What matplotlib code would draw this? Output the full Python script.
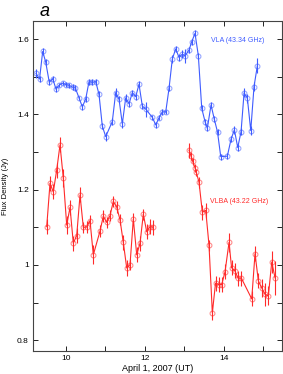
import matplotlib
matplotlib.use("Agg")
import matplotlib.pyplot as plt
from matplotlib.ticker import FixedLocator
import numpy as np

plt.rcParams['font.family'] = ['Liberation Sans', 'DejaVu Sans']

# VLA (43.34 GHz)
vla_t = [9.249, 9.338, 9.418, 9.494, 9.585, 9.671, 9.755, 9.838, 9.924, 10.008,
         10.091, 10.177, 10.243, 10.336, 10.420, 10.506, 10.589, 10.673, 10.759, 10.842,
         10.925, 11.011, 11.178, 11.264, 11.348, 11.431, 11.517, 11.601, 11.684, 11.770,
         11.853, 11.937, 12.023, 12.190, 12.276, 12.359, 12.443, 12.528, 12.612, 12.695,
         12.781, 12.865, 12.948, 13.017, 13.118, 13.186, 13.269, 13.353, 13.439, 13.522,
         13.580, 13.674, 13.757, 13.838, 13.919, 14.086, 14.180, 14.264, 14.349, 14.433,
         14.509, 14.592, 14.678, 14.761, 14.845]
vla_f = [1.509, 1.494, 1.567, 1.539, 1.485, 1.495, 1.467, 1.478, 1.483, 1.479,
         1.477, 1.472, 1.470, 1.444, 1.420, 1.441, 1.487, 1.485, 1.487, 1.453,
         1.369, 1.341, 1.381, 1.458, 1.440, 1.375, 1.444, 1.428, 1.458, 1.447,
         1.480, 1.422, 1.414, 1.392, 1.372, 1.391, 1.407, 1.406, 1.469, 1.547,
         1.574, 1.551, 1.560, 1.555, 1.571, 1.593, 1.615, 1.556, 1.416, 1.381,
         1.363, 1.425, 1.387, 1.353, 1.288, 1.289, 1.334, 1.359, 1.312, 1.354,
         1.457, 1.443, 1.357, 1.474, 1.529]
vla_e = [0.012, 0.008, 0.010, 0.008, 0.008, 0.008, 0.008, 0.006, 0.006, 0.006,
         0.006, 0.008, 0.008, 0.006, 0.008, 0.008, 0.008, 0.008, 0.008, 0.008,
         0.008, 0.012, 0.010, 0.012, 0.008, 0.010, 0.010, 0.008, 0.008, 0.008,
         0.008, 0.008, 0.020, 0.006, 0.008, 0.006, 0.008, 0.006, 0.008, 0.010,
         0.008, 0.008, 0.010, 0.018, 0.008, 0.008, 0.008, 0.008, 0.008, 0.008,
         0.008, 0.008, 0.008, 0.008, 0.008, 0.008, 0.008, 0.010, 0.010, 0.010,
         0.012, 0.012, 0.012, 0.012, 0.020]

# VLBA (43.22 GHz)
vlba_t = [9.520, 9.603, 9.686, 9.772, 9.856, 9.939, 10.025, 10.109, 10.192, 10.278,
          10.362, 10.445, 10.531, 10.614, 10.698, 10.867, 10.951, 11.037, 11.120, 11.204,
          11.289, 11.373, 11.456, 11.542, 11.626, 11.709, 11.795, 11.879, 11.962, 12.048,
          12.131, 12.215,
          13.118, 13.166, 13.211, 13.269, 13.302, 13.370, 13.454, 13.540, 13.623, 13.707,
          13.788, 13.869, 13.944, 14.028, 14.129, 14.193, 14.274, 14.357, 14.441, 14.703,
          14.786, 14.870, 14.956, 15.039, 15.123, 15.209, 15.292]
vlba_f = [1.102, 1.217, 1.194, 1.252, 1.319, 1.231, 1.106, 1.153, 1.058, 1.078,
          1.186, 1.100, 1.101, 1.118, 1.027, 1.090, 1.130, 1.113, 1.131, 1.169,
          1.154, 1.120, 1.060, 0.992, 1.001, 1.122, 1.027, 1.058, 1.135, 1.088,
          1.102, 1.100,
          1.305, 1.290, 1.275, 1.258, 1.246, 1.220, 1.140, 1.145, 1.052, 0.873,
          0.952, 0.948, 0.948, 0.982, 1.060, 0.993, 0.985, 0.965, 0.965, 0.910,
          1.030, 0.958, 0.939, 0.922, 0.918, 1.008, 0.966]
vlba_e = [0.020, 0.020, 0.020, 0.020, 0.020, 0.025, 0.025, 0.020, 0.020, 0.020,
          0.020, 0.015, 0.015, 0.015, 0.025, 0.015, 0.015, 0.015, 0.015, 0.015,
          0.015, 0.015, 0.020, 0.020, 0.015, 0.015, 0.020, 0.020, 0.015, 0.020,
          0.020, 0.020,
          0.020, 0.010, 0.010, 0.010, 0.010, 0.015, 0.020, 0.020, 0.015, 0.020,
          0.020, 0.020, 0.020, 0.020, 0.025, 0.020, 0.020, 0.020, 0.020, 0.020,
          0.020, 0.020, 0.025, 0.030, 0.025, 0.030, 0.045]

blue = '#3f5cff'
red = '#ff2a2a'

fig = plt.figure(figsize=(2.83, 3.74), dpi=100)
ax = fig.add_axes([0.1166, 0.0615, 0.88, 0.8824])

# VLA
ax.errorbar(vla_t, vla_f, yerr=vla_e, fmt='-', color=blue, lw=0.8, elinewidth=0.8, capsize=0)
ax.plot(vla_t, vla_f, 'o', ms=3.5, mfc='none', mec=blue, mew=0.7, alpha=0.6)

# VLBA two segments
ax.errorbar(vlba_t[:32], vlba_f[:32], yerr=vlba_e[:32], fmt='-', color=red, lw=0.8, elinewidth=0.8, capsize=0)
ax.errorbar(vlba_t[32:], vlba_f[32:], yerr=vlba_e[32:], fmt='-', color=red, lw=0.8, elinewidth=0.8, capsize=0)
ax.plot(vlba_t, vlba_f, 'o', ms=3.5, mfc='none', mec=red, mew=0.7, alpha=0.6)

ax.set_xlim(9.173, 15.469)
ax.set_ylim(0.7716, 1.648)
ax.xaxis.set_major_locator(FixedLocator([10, 12, 14]))
ax.xaxis.set_minor_locator(FixedLocator([11, 13, 15]))
ax.yaxis.set_major_locator(FixedLocator([0.8, 1.0, 1.2, 1.4, 1.6]))
ax.yaxis.set_minor_locator(FixedLocator([0.9, 1.1, 1.3, 1.5]))
ax.set_yticklabels(['0.8', '1', '1.2', '1.4', '1.6'])
ax.tick_params(which='both', direction='in', top=True, right=True, length=3.5, width=0.6,
               labelsize=6, pad=3)
for s in ax.spines.values():
    s.set_linewidth(0.8)
    s.set_color('#444444')

ax.set_xlabel('April 1, 2007 (UT)', fontsize=6.5, labelpad=1)
ax.set_ylabel('Flux Density (Jy)', fontsize=5.5, labelpad=6)

ax.text(14.35, 1.597, 'VLA (43.34 GHz)', color=blue, fontsize=5, ha='center', va='center')
ax.text(14.38, 1.168, 'VLBA (43.22 GHz)', color=red, fontsize=5, ha='center', va='center')
fig.text(0.159, 0.968, 'a', fontsize=13, style='italic', ha='center', va='center')

fig.savefig('out.png', dpi=100)
